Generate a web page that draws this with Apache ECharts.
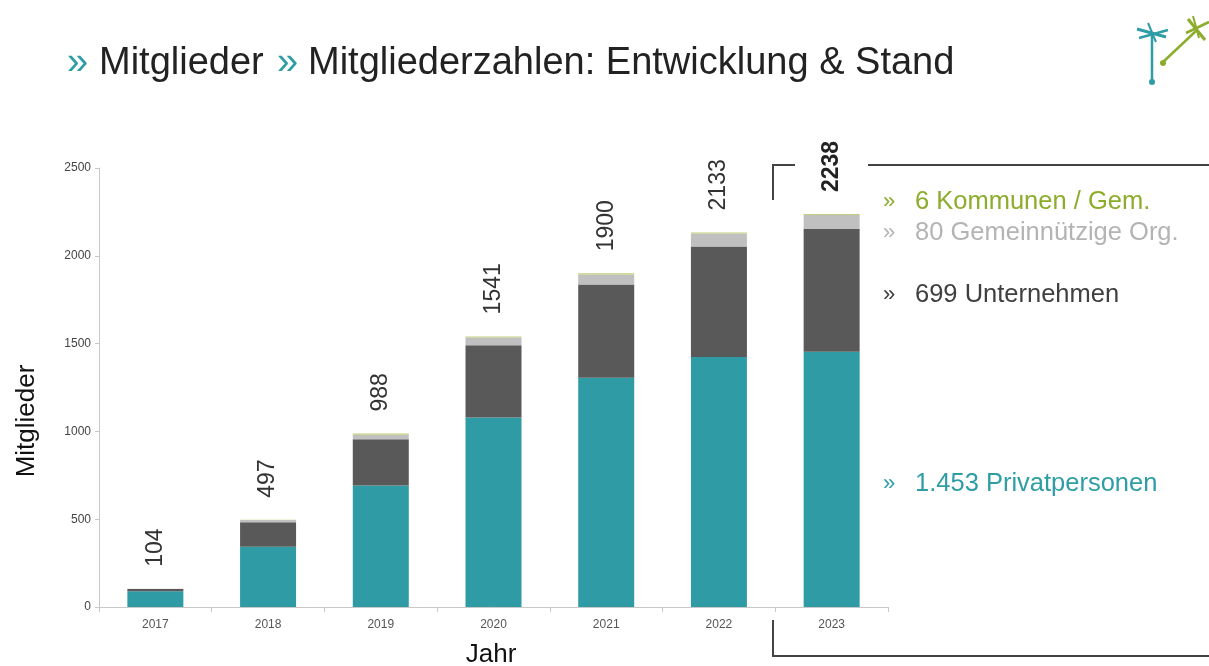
<!DOCTYPE html>
<html>
<head>
<meta charset="utf-8">
<script src="https://cdn.jsdelivr.net/npm/echarts@6/dist/echarts.min.js"></script>
<style>
  html, body { margin: 0; padding: 0; background: #fff; }
  #chart { width: 1209px; height: 666px; }
</style>
</head>
<body>
<div id="chart"></div>
<script>
// Jahre und Mitglieder je Gruppe
const years = ['2017', '2018', '2019', '2020', '2021', '2022', '2023']
const privat = [90, 343, 692, 1079, 1306, 1423, 1453]
const unternehmen = [12, 139, 264, 411, 530, 630, 699]
const gemeinnuetzig = [2, 13, 25, 45, 57, 74, 80]
const kommunen = [0, 2, 7, 6, 7, 6, 6]
const totals = [104, 497, 988, 1541, 1900, 2133, 2238]
const yTicks = [0, 500, 1000, 1500, 2000, 2500]

const legendLines = [
  { text: '6 Kommunen / Gem.', color: '#8cad2c', y: 202 },
  { text: '80 Gemeinnützige Org.', color: '#b4b4b4', y: 233 },
  { text: '699 Unternehmen', color: '#404040', y: 295 },
  { text: '1.453 Privatpersonen', color: '#2e9da6', y: 484 }
]

const chart = echarts.init(document.getElementById('chart'))
const font = 'Liberation Sans, Arial, sans-serif'

const barBase = { type: 'bar', stack: 'total', barWidth: 56 }

const titleStyle = { fontSize: 38, fontFamily: font, fill: '#222', verticalAlign: 'middle' }

const graphics = [
  // Titel
  { type: 'text', x: 67, y: 64, style: Object.assign({}, titleStyle, { text: '»', fill: '#2e9da6' }) },
  { type: 'text', x: 99, y: 64, style: Object.assign({}, titleStyle, { text: 'Mitglieder' }) },
  { type: 'text', x: 277, y: 64, style: Object.assign({}, titleStyle, { text: '»', fill: '#2e9da6' }) },
  { type: 'text', x: 308, y: 64, style: Object.assign({}, titleStyle, { text: 'Mitgliederzahlen: Entwicklung & Stand' }) },
  // Achsentitel
  {
    type: 'text', x: 27, y: 421, rotation: Math.PI / 2,
    style: { text: 'Mitglieder', fontSize: 26, fontFamily: font, fill: '#111', align: 'center', verticalAlign: 'middle' }
  },
  {
    type: 'text', x: 491, y: 655,
    style: { text: 'Jahr', fontSize: 26, fontFamily: font, fill: '#111', align: 'center', verticalAlign: 'middle' }
  },
  // Klammer oben
  { type: 'polyline', shape: { points: [[773, 200], [773, 165], [795, 165]] }, style: { stroke: '#444', lineWidth: 2, fill: null } },
  { type: 'line', shape: { x1: 868, y1: 165, x2: 1209, y2: 165 }, style: { stroke: '#444', lineWidth: 2 } },
  // Klammer unten
  { type: 'polyline', shape: { points: [[773, 620], [773, 656], [1209, 656]] }, style: { stroke: '#444', lineWidth: 2, fill: null } },
  // Logo (grob)
  { type: 'line', shape: { x1: 1152, y1: 34, x2: 1152, y2: 80 }, style: { stroke: '#2e9da6', lineWidth: 2.5 } },
  { type: 'circle', shape: { cx: 1152, cy: 82, r: 3 }, style: { fill: '#2e9da6' } },
  { type: 'line', shape: { x1: 1137, y1: 29, x2: 1166, y2: 37 }, style: { stroke: '#2e9da6', lineWidth: 3 } },
  { type: 'line', shape: { x1: 1139, y1: 38, x2: 1168, y2: 30 }, style: { stroke: '#2e9da6', lineWidth: 2.5 } },
  { type: 'line', shape: { x1: 1148, y1: 23, x2: 1156, y2: 42 }, style: { stroke: '#2e9da6', lineWidth: 2 } },
  { type: 'line', shape: { x1: 1162, y1: 63, x2: 1197, y2: 30 }, style: { stroke: '#8cad2c', lineWidth: 2.5 } },
  { type: 'circle', shape: { cx: 1163, cy: 63, r: 3 }, style: { fill: '#8cad2c' } },
  { type: 'line', shape: { x1: 1188, y1: 19, x2: 1205, y2: 40 }, style: { stroke: '#8cad2c', lineWidth: 3 } },
  { type: 'line', shape: { x1: 1186, y1: 33, x2: 1209, y2: 22 }, style: { stroke: '#8cad2c', lineWidth: 2.5 } },
  { type: 'line', shape: { x1: 1193, y1: 16, x2: 1199, y2: 38 }, style: { stroke: '#8cad2c', lineWidth: 2 } }
]

legendLines.forEach(item => {
  graphics.push({
    type: 'text', x: 883, y: item.y,
    style: { text: '»', fill: item.color, fontSize: 22, fontFamily: font, verticalAlign: 'middle' }
  })
  graphics.push({
    type: 'text', x: 915, y: item.y,
    style: { text: item.text, fill: item.color, fontSize: 25.5, fontFamily: font, verticalAlign: 'middle' }
  })
})

const option = {
  backgroundColor: '#fff',
  animation: false,
  grid: { left: 99, right: 321, top: 168, bottom: 59, containLabel: false, outerBoundsMode: 'none' },
  xAxis: {
    type: 'category',
    data: years,
    axisLine: { lineStyle: { color: '#c8c8c8' } },
    axisTick: { show: true, alignWithLabel: false, length: 5, lineStyle: { color: '#c8c8c8' } },
    axisLabel: { fontSize: 12, color: '#555', fontFamily: font, margin: 12 }
  },
  yAxis: {
    type: 'value',
    min: 0,
    max: 2500,
    interval: 500,
    splitLine: { show: false },
    axisLine: { show: true, lineStyle: { color: '#c8c8c8' } },
    axisTick: { show: true, length: 4, lineStyle: { color: '#c8c8c8' } },
    axisLabel: {
      fontSize: 12, color: '#444', fontFamily: font, margin: 8,
      formatter: v => yTicks.includes(v) ? String(v) : ''
    }
  },
  series: [
    Object.assign({}, barBase, { name: 'Privatpersonen', data: privat, itemStyle: { color: '#2f9ca5' } }),
    Object.assign({}, barBase, { name: 'Unternehmen', data: unternehmen, itemStyle: { color: '#595959' } }),
    Object.assign({}, barBase, { name: 'Gemeinnützige Org.', data: gemeinnuetzig, itemStyle: { color: '#c0c0c0' } }),
    Object.assign({}, barBase, {
      name: 'Kommunen / Gem.',
      data: kommunen,
      itemStyle: { color: '#c3cf7a' },
      label: {
        show: true,
        position: 'top',
        rotate: 90,
        align: 'left',
        verticalAlign: 'middle',
        distance: 22,
        fontSize: 23,
        color: '#333',
        fontFamily: font,
        formatter: p => p.dataIndex === 6
          ? '{b|' + totals[p.dataIndex] + '}'
          : String(totals[p.dataIndex]),
        rich: { b: { fontSize: 23, fontWeight: 'bold', color: '#222', fontFamily: font } }
      }
    })
  ],
  graphic: graphics
}

chart.setOption(option)
</script>
</body>
</html>
